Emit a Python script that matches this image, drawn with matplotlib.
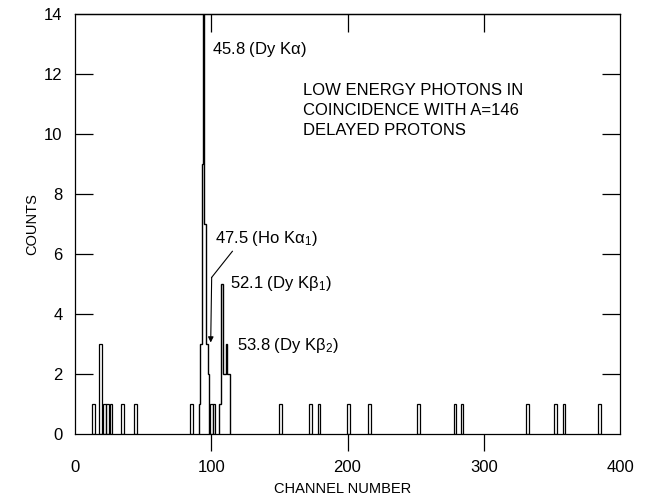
import matplotlib
matplotlib.use('Agg')
import matplotlib.pyplot as plt

plt.rcParams['font.family'] = ['Liberation Sans', 'DejaVu Sans']
plt.rcParams['mathtext.fontset'] = 'custom'
plt.rcParams['mathtext.rm'] = 'Liberation Sans'
plt.rcParams['mathtext.it'] = 'Liberation Sans'
plt.rcParams['mathtext.bf'] = 'Liberation Sans:bold'

# isolated single-channel counts
channel = [13.7, 18.7, 21.5, 24.0, 26.5, 34.8, 44.2, 85.3,
           100.3, 102.1,
           150.8, 172.7, 179.0, 200.8, 216.4, 252.2, 278.8, 284.0,
           331.9, 352.9, 358.8, 385.0]
counts = [1, 3, 1, 1, 1, 1, 1, 1,
          1, 1,
          1, 1, 1, 1, 1, 1, 1, 1,
          1, 1, 1, 1]

# Dy K-alpha / Ho K-alpha1 group (top bin runs off scale)
ka_edges = [91.0, 91.7, 93.0, 94.2, 94.9, 95.9, 97.3, 98.3]
ka_counts = [1, 3, 9, 20, 7, 3, 2]

# Dy K-beta group
kb_edges = [105.9, 107.3, 108.6, 110.6, 111.4, 113.8]
kb_counts = [1, 5, 2, 3, 2]

xticks = [0, 100, 200, 300, 400]
yticks = [0, 2, 4, 6, 8, 10, 12, 14]

fig = plt.figure(figsize=(6.46, 4.98), dpi=100)
ax = fig.add_axes([0.1161, 0.1285, 0.8437, 0.8434])

ax.bar(channel, counts, width=2.0, fill=False, edgecolor='black', linewidth=0.9)
ax.stairs(ka_counts, ka_edges, baseline=0, color='black', linewidth=1.0)
ax.stairs(kb_counts, kb_edges, baseline=0, color='black', linewidth=1.0)

ax.set_xlim(0, 400)
ax.set_ylim(0, 14)
ax.set_xticks(xticks)
ax.set_yticks(yticks)
for s in ax.spines.values():
    s.set_linewidth(0.9)

ax.tick_params(axis='x', direction='out', length=12, width=0.9, labelsize=12, pad=7)
ax.tick_params(axis='y', direction='in', length=13, width=0.9, labelsize=12, pad=9,
               left=True, right=True)
# no tick marks sitting on the corners
for t in (ax.xaxis.get_major_ticks()[0], ax.xaxis.get_major_ticks()[-1]):
    t.tick1line.set_visible(False)
for t in (ax.yaxis.get_major_ticks()[0], ax.yaxis.get_major_ticks()[-1]):
    t.tick1line.set_visible(False)
    t.tick2line.set_visible(False)

top = ax.secondary_xaxis('top')
top.set_xticks([100, 200, 300])
top.tick_params(direction='in', length=13, width=0.9, labeltop=False)
top.spines['top'].set_linewidth(0.9)

fig.text(32.5 / 646, 1 - 224 / 498, 'COUNTS', rotation=90, ha='center', va='center', fontsize=10.5)
fig.text(343 / 646, 1 - 489 / 498, 'CHANNEL NUMBER', ha='center', va='center', fontsize=10.5)

ax.text(100.6, 12.83, r'45.8 (Dy K$\alpha$)', fontsize=12, va='center')
ax.text(102.8, 6.52, r'47.5 (Ho K$\alpha_1$)', fontsize=12, va='center')
ax.text(113.8, 5.02, r'52.1 (Dy K$\beta_1$)', fontsize=12, va='center')
ax.text(119.1, 2.94, r'53.8 (Dy K$\beta_2$)', fontsize=12, va='center')

ax.text(167.1, 10.78, 'LOW ENERGY PHOTONS IN\nCOINCIDENCE WITH A=146\nDELAYED PROTONS',
        fontsize=12, va='center', ha='left', linespacing=1.45)

ax.plot([115.5, 100.3], [6.09, 5.22], color='black', linewidth=0.8)
ax.annotate('', xy=(99.6, 3.05), xytext=(100.3, 5.22),
            arrowprops=dict(arrowstyle='-|>', color='black', lw=0.8,
                            mutation_scale=8, shrinkA=0, shrinkB=0))

fig.savefig('out.png', dpi=100)
